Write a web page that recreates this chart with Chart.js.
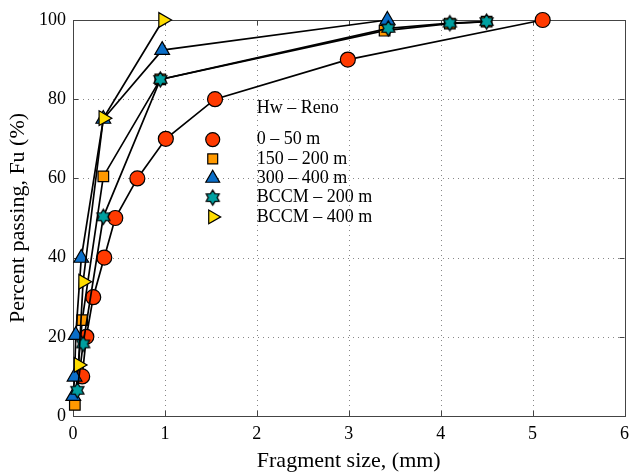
<!DOCTYPE html>
<html>
<head>
<meta charset="utf-8">
<script src="https://cdn.jsdelivr.net/npm/chart.js@4.4.1/dist/chart.umd.min.js"></script>
<style>
  body { margin: 0; background: #fff; }
</style>
</head>
<body>
<canvas id="myChart" width="629" height="474"></canvas>
<script>
// data
const seriesLabels = ['0 – 50 m', '150 – 200 m', '300 – 400 m', 'BCCM – 200 m', 'BCCM – 400 m'];
const legendTitle = 'Hw – Reno';

const red_x = [0.10, 0.145, 0.22, 0.34, 0.46, 0.70, 1.01, 1.545, 2.99, 5.11];
const red_y = [10, 20, 30, 40, 50, 60, 70, 80, 90, 100];

const orange_x = [0.02, 0.10, 0.33, 0.95, 3.39, 4.10, 4.50];
const orange_y = [2.8, 24.2, 60.5, 85, 97.3, 99.1, 99.6];

const blue_x = [0.003, 0.017, 0.03, 0.09, 0.33, 0.97, 3.42];
const blue_y = [5, 9.9, 20.4, 39.9, 75, 92.4, 100];

const teal_x = [0.047, 0.11, 0.33, 0.95, 3.43, 4.10, 4.50];
const teal_y = [6.5, 18.2, 50.3, 85, 97.9, 99.2, 99.6];

const yellow_x = [0.06, 0.11, 0.33, 0.98];
const yellow_y = [12.9, 33.9, 75.2, 100];

const xTicks = [0, 1, 2, 3, 4, 5, 6];
const yTicks = [0, 20, 40, 60, 80, 100];

const serif = "'Liberation Serif', 'Times New Roman', serif";

const pts = (xs, ys) => xs.map((x, i) => ({x: x, y: ys[i]}));

// six pointed star marker
function hexagram(r, fill) {
  const c = document.createElement('canvas');
  const s = Math.ceil(r * 2 + 4);
  c.width = s; c.height = s;
  const g = c.getContext('2d');
  g.translate(s / 2, s / 2);
  g.beginPath();
  for (let i = 0; i < 12; i++) {
    const a = -Math.PI / 2 + i * Math.PI / 6;
    const rr = i % 2 === 0 ? r : r * 0.6;
    g.lineTo(Math.cos(a) * rr, Math.sin(a) * rr);
  }
  g.closePath();
  g.fillStyle = fill;
  g.fill();
  g.lineWidth = 1.3;
  g.strokeStyle = '#000';
  g.stroke();
  return c;
}
const starImg = hexagram(7.5, '#00a0a0');

const styles = [
  {bg: '#ff3a00', style: 'circle', r: 7.5, rot: 0},
  {bg: '#ff9900', style: 'rect', r: 7.5, rot: 0},
  {bg: '#0a6ec8', style: 'triangle', r: 8.5, rot: 0},
  {bg: '#00a0a0', style: starImg, r: 8, rot: 0},
  {bg: '#ffdd00', style: 'triangle', r: 8.5, rot: 90}
];

const allData = [pts(red_x, red_y), pts(orange_x, orange_y), pts(blue_x, blue_y), pts(teal_x, teal_y), pts(yellow_x, yellow_y)];

const datasets = allData.map((d, i) => ({
  label: seriesLabels[i],
  data: d,
  showLine: true,
  borderColor: '#000',
  borderWidth: 1.7,
  pointBackgroundColor: styles[i].bg,
  pointBorderColor: '#000',
  pointBorderWidth: 1.2,
  pointStyle: styles[i].style,
  pointRadius: styles[i].r,
  pointRotation: styles[i].rot,
  clip: false,
  order: 5 - i
}));

// matlab style box, dotted grid and inward ticks
const boxPlugin = {
  id: 'box',
  beforeDatasetsDraw(chart) {
    const {ctx, chartArea: a, scales: {x, y}} = chart;
    ctx.save();
    ctx.strokeStyle = '#888';
    ctx.lineWidth = 1;
    ctx.setLineDash([1, 4]);
    xTicks.forEach(v => {
      const px = Math.round(x.getPixelForValue(v)) + 0.5;
      ctx.beginPath(); ctx.moveTo(px, a.top); ctx.lineTo(px, a.bottom); ctx.stroke();
    });
    yTicks.forEach(v => {
      const py = Math.round(y.getPixelForValue(v)) + 0.5;
      ctx.beginPath(); ctx.moveTo(a.left, py); ctx.lineTo(a.right, py); ctx.stroke();
    });
    ctx.setLineDash([]);
    ctx.strokeStyle = '#444';
    ctx.lineWidth = 1;
    ctx.strokeRect(Math.round(a.left) + 0.5, Math.round(a.top) + 0.5, Math.round(a.right - a.left), Math.round(a.bottom - a.top));
    const tl = 5;
    xTicks.forEach(v => {
      const px = Math.round(x.getPixelForValue(v)) + 0.5;
      ctx.beginPath();
      ctx.moveTo(px, a.bottom); ctx.lineTo(px, a.bottom - tl);
      ctx.moveTo(px, a.top); ctx.lineTo(px, a.top + tl);
      ctx.stroke();
    });
    yTicks.forEach(v => {
      const py = Math.round(y.getPixelForValue(v)) + 0.5;
      ctx.beginPath();
      ctx.moveTo(a.left, py); ctx.lineTo(a.left + tl, py);
      ctx.moveTo(a.right, py); ctx.lineTo(a.right - tl, py);
      ctx.stroke();
    });
    ctx.restore();
  }
};

// legend inside the axes
const legendPlugin = {
  id: 'innerLegend',
  afterDraw(chart) {
    const {ctx, scales: {x, y}} = chart;
    ctx.save();
    ctx.font = '18px ' + serif;
    ctx.fillStyle = '#000';
    ctx.textBaseline = 'middle';
    ctx.textAlign = 'left';
    const tx = x.getPixelForValue(2.0);
    const mx = x.getPixelForValue(1.52);
    ctx.fillText(legendTitle, tx, y.getPixelForValue(77.8));
    seriesLabels.forEach((lab, i) => {
      const py = y.getPixelForValue(69.8 - i * 4.88);
      ctx.fillStyle = styles[i].bg;
      ctx.strokeStyle = '#000';
      ctx.lineWidth = 1.2;
      Chart.helpers.drawPoint(ctx, {pointStyle: styles[i].style, rotation: styles[i].rot, radius: styles[i].r - 0.5, borderWidth: 1.2}, mx, py);
      ctx.fillStyle = '#000';
      ctx.fillText(lab, tx, py);
    });
    ctx.restore();
  }
};

new Chart(document.getElementById('myChart').getContext('2d'), {
  type: 'scatter',
  data: { datasets: datasets },
  options: {
    responsive: false,
    animation: false,
    layout: { autoPadding: false, padding: { top: 20, right: 4, left: 0, bottom: 0 } },
    plugins: { legend: { display: false }, tooltip: { enabled: false } },
    scales: {
      x: {
        type: 'linear', min: 0, max: 6,
        afterBuildTicks: s => { s.ticks = xTicks.map(v => ({value: v})); },
        afterFit: s => { s.height = 58; },
        ticks: { color: '#000', padding: 0, maxRotation: 0, font: { family: serif, size: 18 } },
        grid: { display: false, drawTicks: true, tickLength: 7 },
        border: { display: false },
        title: { display: true, text: 'Fragment size, (mm)', color: '#000', padding: { bottom: 0 }, font: { family: serif, size: 22 } }
      },
      y: {
        min: 0, max: 100,
        afterBuildTicks: s => { s.ticks = yTicks.map(v => ({value: v})); },
        afterFit: s => { s.width = 73; },
        ticks: { color: '#000', padding: 7, font: { family: serif, size: 18 } },
        grid: { display: false, drawTicks: false },
        border: { display: false },
        title: { display: true, text: 'Percent passing, Fu (%)', color: '#000', padding: { top: 5 }, font: { family: serif, size: 22 } }
      }
    }
  },
  plugins: [boxPlugin, legendPlugin]
});
</script>
</body>
</html>
